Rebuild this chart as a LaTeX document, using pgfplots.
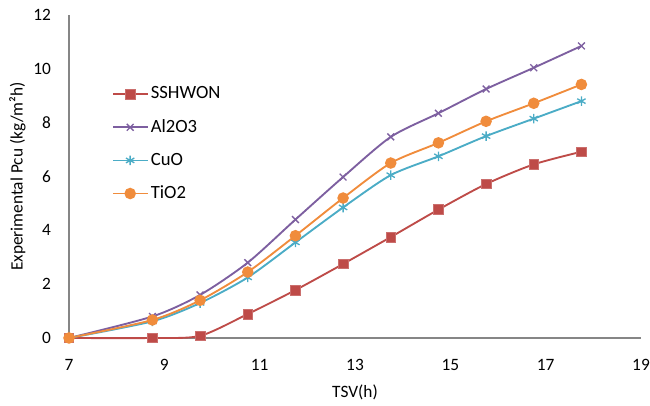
\documentclass[border=0pt]{standalone}
\usepackage{pgfplots}
\pgfplotsset{compat=1.18}
\usepackage{fontspec}
\setmainfont{Carlito}
\definecolor{cred}{HTML}{BE4B48}
\definecolor{cpurple}{HTML}{7D5FA0}
\definecolor{cteal}{HTML}{4BACC6}
\definecolor{corange}{HTML}{F08C3C}
\definecolor{axisgray}{HTML}{868686}
\begin{document}
\fontsize{13}{15}\selectfont
\begin{tikzpicture}
\useasboundingbox (-51.75pt,-51pt) rectangle (435.75pt,253.5pt);
\begin{axis}[at={(0,0)}, anchor=south west, scale only axis,
  width=429pt, height=242.25pt,
  xmin=7, xmax=19, ymin=0, ymax=12,
  xtick={7,9,...,19}, ytick={0,2,...,12},
  axis x line=bottom, axis y line=left,
  axis line style={draw=axisgray, line width=1.2pt, -},
  tick style={draw=none}, major tick length=0pt,
  /pgf/number format/assume math mode=true,
  ticklabel style={font=\fontsize{13}{15}\selectfont, text=black},
  yticklabel style={xshift=-9pt},
  xticklabel style={yshift=-11.5pt},
  xlabel={TSV(h)}, ylabel={Experimental Pcu (kg/m²h)},
  label style={font=\fontsize{13}{15}\selectfont},
  xlabel style={at={(axis description cs:0.5,-0.168)}, anchor=center},
  ylabel style={at={(axis description cs:-0.09,0.5)}, anchor=center, rotate=0},
  legend style={draw=none, fill=none, at={(axis description cs:0.068,0.795)}, anchor=north west,
    font=\fontsize{14}{16}\selectfont, row sep=9.5pt},
  legend cell align=left,
  legend image code/.code={\draw[mark repeat=2,mark phase=2] plot coordinates {(0cm,0cm) (0.45cm,0cm) (0.9cm,0cm)};},
  clip=false,
  every axis plot/.append style={line width=1.4pt, smooth, tension=0.45},
]
\addplot[cred, mark=square*, mark size=3.6pt, mark options={solid, fill=cred, draw=cred!80!white, line width=0.5pt}] coordinates {
(7,0) (8.75,0) (9.75,0.08) (10.75,0.89) (11.75,1.78) (12.75,2.75) (13.75,3.75) (14.75,4.77) (15.75,5.72) (16.75,6.45) (17.75,6.92)};
\addlegendentry{SSHWON}
\addplot[cpurple, mark=x, mark size=3.6pt, mark options={solid, line width=1pt}] coordinates {
(7,0) (8.75,0.8) (9.75,1.6) (10.75,2.8) (11.75,4.4) (12.75,5.98) (13.75,7.47) (14.75,8.35) (15.75,9.25) (16.75,10.04) (17.75,10.85)};
\addlegendentry{Al2O3}
\addplot[cteal, mark=asterisk, mark size=3.6pt, mark options={solid, line width=1pt}] coordinates {
(7,0) (8.75,0.62) (9.75,1.3) (10.75,2.25) (11.75,3.55) (12.75,4.85) (13.75,6.05) (14.75,6.75) (15.75,7.5) (16.75,8.15) (17.75,8.8)};
\addlegendentry{CuO}
\addplot[corange, mark=*, mark size=3.6pt, mark options={solid, fill=corange, draw=corange}] coordinates {
(7,0) (8.75,0.67) (9.75,1.4) (10.75,2.45) (11.75,3.8) (12.75,5.2) (13.75,6.5) (14.75,7.25) (15.75,8.05) (16.75,8.72) (17.75,9.42)};
\addlegendentry{TiO2}
\end{axis}
\end{tikzpicture}
\end{document}
